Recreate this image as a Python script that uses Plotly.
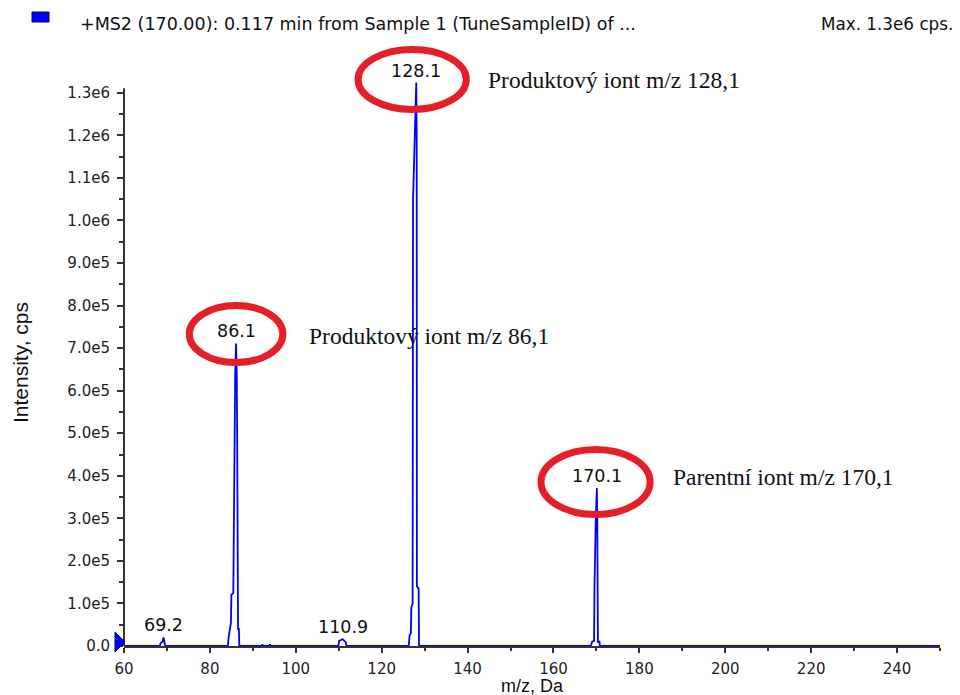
import plotly.graph_objects as go

# ---- spectrum data: +MS2 product-ion scan of m/z 170 ----
profile_mz = [
    60.0, 68.3, 68.6, 69.0, 69.2, 69.4, 69.6,
    84.2, 84.35, 84.9, 85.0, 85.45, 85.7, 85.9, 86.1, 86.25, 86.35, 86.55, 86.75, 86.85,
    92.0, 92.2, 92.4, 93.8, 94.0, 94.2,
    109.9, 110.1, 110.5, 110.9, 111.3, 111.6, 111.8,
    126.3, 126.5, 126.8, 126.9, 127.2, 127.3, 127.85, 128.05, 128.15, 128.2, 128.6, 128.7,
    168.7, 169.0, 169.45, 169.55, 169.85, 170.1, 170.2, 170.25, 170.35, 170.7, 170.8,
    250.0,
]
profile_intensity = [
    0, 0, 8e3, 1.0e4, 2.0e4, 8e3, 0,
    0, 2.0e4, 5.5e4, 1.2e5, 1.25e5, 5.4e5, 6.5e5, 7.11e5, 6.4e5, 5.0e5, 4.0e4, 4.0e4, 0,
    0, 4e3, 0, 0, 4e3, 0,
    0, 1.2e4, 1.4e4, 1.6e4, 1.2e4, 1.0e4, 0,
    0, 2.5e4, 3.0e4, 9.0e4, 1.0e5, 1.05e6, 1.22e6, 1.324e6, 1.20e6, 1.40e5, 1.35e5, 0,
    0, 1.0e4, 1.2e4, 1.4e5, 3.0e5, 3.71e5, 3.0e5, 1.4e5, 1.0e4, 1.0e4, 0,
    0,
]

# labelled peak apexes
label_mz = [69.2, 86.1, 110.9, 128.1, 170.1]
label_intensity = [2.0e4, 7.11e5, 1.6e4, 1.324e6, 3.71e5]

# circled ions with their descriptions
ion_mz = [128.1, 86.1, 170.1]
ion_kind = ["Produktový iont", "Produktový iont", "Parentní iont"]

# axis ticks
x_major = [60, 80, 100, 120, 140, 160, 180, 200, 220, 240]
x_minor = [70, 90, 110, 130, 150, 170, 190, 210, 230, 250]
y_major = [0, 1e5, 2e5, 3e5, 4e5, 5e5, 6e5, 7e5, 8e5, 9e5, 1.0e6, 1.1e6, 1.2e6, 1.3e6]
y_labels = ["0.0", "1.0e5", "2.0e5", "3.0e5", "4.0e5", "5.0e5", "6.0e5", "7.0e5",
            "8.0e5", "9.0e5", "1.0e6", "1.1e6", "1.2e6", "1.3e6"]
y_minor = [5e4, 1.5e5, 2.5e5, 3.5e5, 4.5e5, 5.5e5, 6.5e5, 7.5e5, 8.5e5, 9.5e5,
           1.05e6, 1.15e6, 1.25e6]

# ---- page geometry ----
W, H = 960, 695
L, R, T, B = 124, 20, 29, 49
X_RANGE = [60, 250]
Y_RANGE = [0, 1.45e6]


def px(x):
    return (x - L) / (W - L - R)


def py(y):
    return (H - B - y) / (H - T - B)


BLUE = "#0000ff"
RED = "#e61e28"
AXIS = "#333333"
TICKFONT = dict(family="DejaVu Sans", size=15, color="#222222")

fig = go.Figure()
fig.add_trace(go.Scatter(
    x=profile_mz, y=profile_intensity, mode="lines",
    line=dict(color=BLUE, width=1.8), hoverinfo="x+y", showlegend=False,
))

shapes = []
annotations = []

# y axis line stops at the top tick region
shapes.append(dict(type="line", xref="paper", yref="y", x0=0, x1=0,
                   y0=0, y1=1.311e6, line=dict(color=AXIS, width=2), layer="above"))

# threshold marker at the origin
shapes.append(dict(type="path", xref="paper", yref="paper",
                   xsizemode="pixel", ysizemode="pixel", xanchor=0, yanchor=0,
                   path="M -9,14 L 1,4 L -9,-6 Z",
                   fillcolor=BLUE, line=dict(color="#000080", width=1), layer="above"))

# peak m/z labels
for mz, inten in zip(label_mz, label_intensity):
    annotations.append(dict(x=mz, y=inten, xref="x", yref="y", text=f"{mz:.1f}",
                            showarrow=False, yanchor="bottom", yshift=0,
                            font=dict(family="DejaVu Sans", size=17.5, color="#111111")))

# red ellipses around the key ions
ellipse_box = {
    128.1: (114.5, 139.7, 1.261e6, 1.402e6),
    86.1: (75.2, 97.0, 0.666e6, 0.800e6),
    170.1: (157.1, 182.5, 0.309e6, 0.462e6),
}
text_anchor = {
    128.1: (144.4, 1.33e6),
    86.1: (102.7, 0.728e6),
    170.1: (187.4, 0.397e6),
}
for mz, kind in zip(ion_mz, ion_kind):
    x0, x1, y0, y1 = ellipse_box[mz]
    shapes.append(dict(type="circle", xref="x", yref="y", x0=x0, x1=x1, y0=y0, y1=y1,
                       line=dict(color=RED, width=7), layer="above"))
    tx, ty = text_anchor[mz]
    annotations.append(dict(x=tx, y=ty, xref="x", yref="y",
                            text=f"{kind} m/z {mz:.1f}".replace(".", ","),
                            showarrow=False, xanchor="left", yanchor="middle",
                            font=dict(family="Liberation Serif", size=23.5, color="#111111")))

# header: legend swatch, scan description, max intensity
shapes.append(dict(type="rect", xref="paper", yref="paper",
                   x0=px(32), x1=px(49), y0=py(22), y1=py(12),
                   fillcolor=BLUE, line=dict(color="#000040", width=1)))
annotations.append(dict(x=px(78), y=py(24), xref="paper", yref="paper",
                        text="+MS2 (170.00): 0.117 min from Sample 1 (TuneSampleID) of ...",
                        showarrow=False, xanchor="left", yanchor="middle",
                        font=dict(family="DejaVu Sans", size=17.5, color="#111111")))
annotations.append(dict(x=px(955), y=py(24), xref="paper", yref="paper",
                        text=f"Max. {max(profile_intensity):.1e} cps.".replace("e+0", "e"),
                        showarrow=False, xanchor="right", yanchor="middle",
                        font=dict(family="DejaVu Sans", size=16.8, color="#111111")))

# axis titles
annotations.append(dict(x=px(532), y=py(686), xref="paper", yref="paper",
                        text="m/z, Da", showarrow=False, xanchor="center", yanchor="middle",
                        font=dict(family="Liberation Sans", size=18, color="#111111")))
annotations.append(dict(x=px(20), y=py(363), xref="paper", yref="paper",
                        text="Intensity, cps", textangle=-90, showarrow=False,
                        xanchor="center", yanchor="middle",
                        font=dict(family="Liberation Sans", size=21, color="#111111")))

fig.update_layout(
    width=W, height=H,
    margin=dict(l=L, r=R, t=T, b=B, pad=0),
    paper_bgcolor="white", plot_bgcolor="white",
    shapes=shapes, annotations=annotations,
    xaxis=dict(range=X_RANGE, showgrid=False, zeroline=False,
               showline=True, linecolor=AXIS, linewidth=2,
               ticks="outside", ticklen=5, tickwidth=1.5, tickcolor=AXIS,
               tickvals=x_major, ticktext=[str(v) for v in x_major],
               ticklabelstandoff=3, tickfont=TICKFONT,
               minor=dict(tickvals=x_minor, ticks="outside", ticklen=3,
                          tickwidth=1.5, tickcolor=AXIS, showgrid=False)),
    yaxis=dict(range=Y_RANGE, showgrid=False, zeroline=False, showline=False,
               ticks="outside", ticklen=6, tickwidth=1.5, tickcolor=AXIS,
               tickvals=y_major, ticktext=y_labels,
               ticklabelstandoff=4, tickfont=TICKFONT,
               minor=dict(tickvals=y_minor, ticks="outside", ticklen=4,
                          tickwidth=1.5, tickcolor=AXIS, showgrid=False)),
)

fig.write_html("out.html")
